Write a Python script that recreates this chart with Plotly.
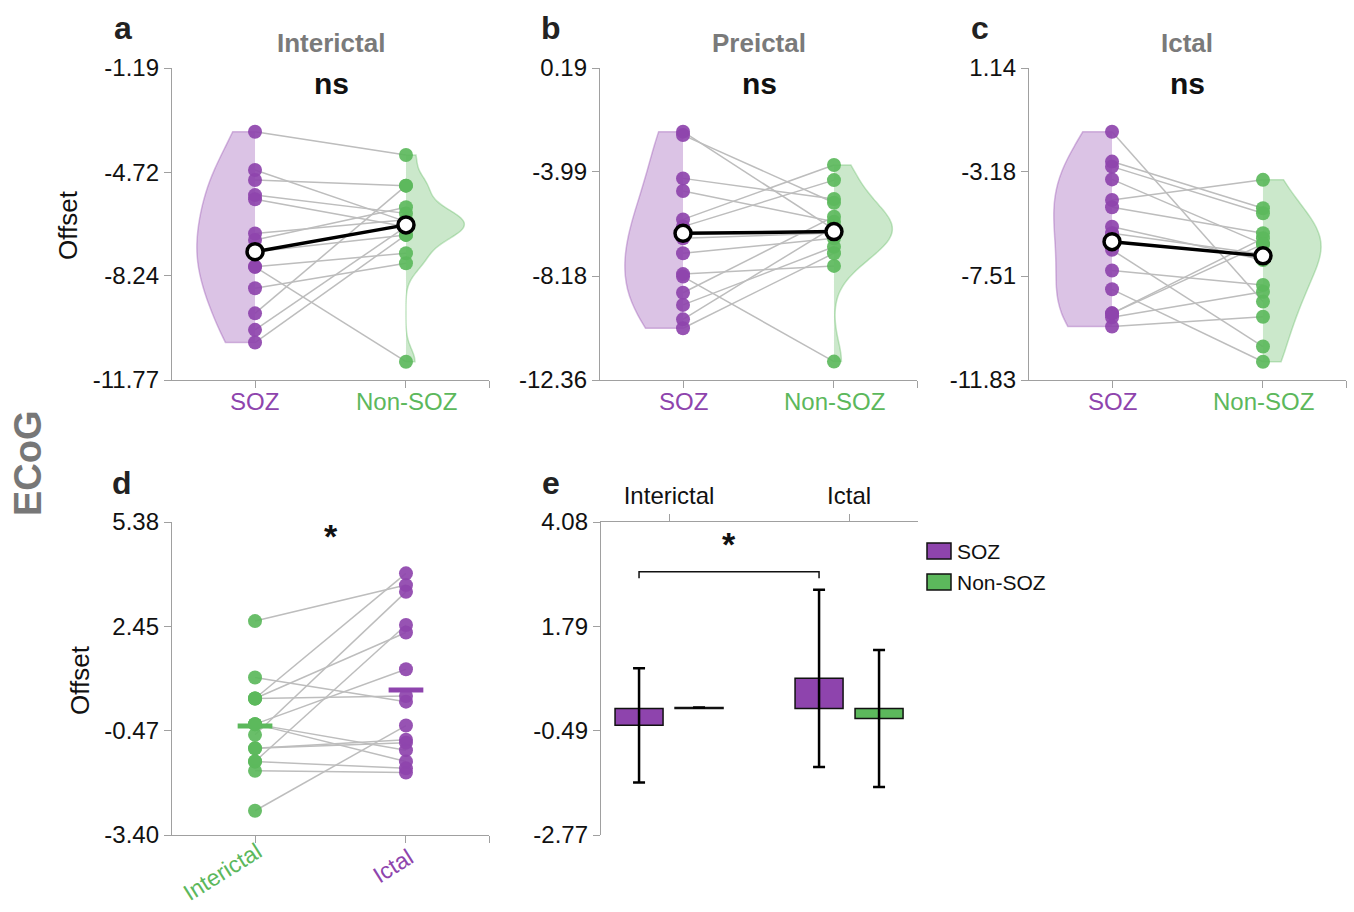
import plotly.graph_objects as go

W, H = 1354, 912
PURPLE = '#8e44ad'
GREEN = '#5cb85c'
FONT = 'Liberation Sans, Arial, sans-serif'

categories_top = ['SOZ', 'Non-SOZ']
panel_titles = ['Interictal', 'Preictal', 'Ictal']

# ---- Panel a: Interictal (paired SOZ / Non-SOZ) ----
a_soz = [-3.35, -4.65, -4.99, -5.50, -5.64, -6.80, -7.02, -7.42, -7.93, -7.93, -8.66, -9.51, -10.07, -10.50]
a_nsoz = [-4.14, -6.40, -5.18, -6.12, -6.57, -6.34, -5.91, -6.85, -7.47, -11.15, -7.81, -5.18, -6.57, -6.85]
a_means = [-7.42, -6.51]
a_yticks = [-1.19, -4.72, -8.24, -11.77]

# ---- Panel b: Preictal ----
b_soz = [-2.37, -2.51, -4.25, -4.76, -5.90, -6.19, -6.66, -7.26, -8.10, -8.20, -8.85, -9.34, -9.92, -10.28]
b_nsoz = [-6.30, -5.23, -5.08, -5.99, -3.71, -4.32, -6.45, -6.66, -7.77, -11.62, -5.79, -7.00, -6.20, -7.26]
b_means = [-6.46, -6.39]
b_yticks = [0.19, -3.99, -8.18, -12.36]

# ---- Panel c: Ictal ----
c_soz = [-1.51, -2.75, -2.96, -3.49, -4.35, -4.65, -5.46, -5.73, -6.42, -7.28, -8.06, -9.06, -9.06, -9.22, -9.61]
c_nsoz = [-8.57, -4.69, -4.90, -6.18, -3.51, -5.73, -6.84, -6.60, -10.44, -7.88, -11.07, -5.94, -6.18, -8.16, -9.20]
c_means = [-6.08, -6.67]
c_yticks = [1.14, -3.18, -7.51, -11.83]

# ---- Panel d: SOZ Interictal vs Ictal ----
d_categories = ['Interictal', 'Ictal']
d_interictal = [2.60, 1.02, 0.43, 0.43, 0.43, -0.29, -0.29, -0.59, -0.97, -0.97, -1.34, -1.60, -0.29, -1.34, -2.72]
d_ictal = [3.61, 0.34, 3.94, 2.28, 0.50, 1.25, -1.02, 3.42, -0.73, -0.81, -1.53, -1.65, -1.34, 2.49, -0.33]
d_means = [-0.34, 0.67]
d_yticks = [5.38, 2.45, -0.47, -3.40]

# ---- Panel e: bar chart ----
e_categories = ['Interictal', 'Ictal']
e_soz = [-0.37, 0.66]
e_soz_err = [1.25, 1.94]
e_nsoz = [0.02, -0.22]
e_nsoz_err = [0.0, 1.50]
e_yticks = [4.08, 1.79, -0.49, -2.77]


def px(x):
    return x / W


def py(y):
    return 1 - y / H


fig = go.Figure()

AX_COLOR = '#a0a0a0'


def xaxis_style(dom, anchor):
    return dict(domain=[px(dom[0]), px(dom[1])], anchor=anchor, range=[-0.55, 1.55],
                showline=True, linecolor=AX_COLOR, linewidth=1.3, ticks='outside', ticklen=7,
                tickcolor=AX_COLOR, tickwidth=1.3, tickvals=[0, 1, 1.55], showticklabels=False,
                showgrid=False, zeroline=False, automargin=False)


def yaxis_style(dom, anchor, ticks):
    return dict(domain=[py(dom[1]), py(dom[0])], anchor=anchor, range=[ticks[-1], ticks[0]],
                showline=True, linecolor=AX_COLOR, linewidth=1.3, ticks='outside', ticklen=7,
                tickcolor=AX_COLOR, tickwidth=1.3, tickvals=ticks,
                ticktext=['%.2f' % t for t in ticks],
                tickfont=dict(family=FONT, size=24, color='#111'),
                showgrid=False, zeroline=False, automargin=False)


panels = [
    ('x', 'y', a_soz, a_nsoz, a_means, a_yticks),
    ('x2', 'y2', b_soz, b_nsoz, b_means, b_yticks),
    ('x3', 'y3', c_soz, c_nsoz, c_means, c_yticks),
]

for xa, ya, soz, nsoz, means, yt in panels:
    fig.add_trace(go.Violin(y=soz, x0=0, side='negative', width=0.77, spanmode='hard', points=False,
                            fillcolor='rgba(142,68,173,0.32)',
                            line=dict(color='rgba(142,68,173,0.35)', width=1.5),
                            box_visible=False, meanline_visible=False, hoverinfo='skip',
                            xaxis=xa, yaxis=ya))
    fig.add_trace(go.Violin(y=nsoz, x0=1, side='positive', width=0.77, spanmode='hard', points=False,
                            fillcolor='rgba(92,184,92,0.32)',
                            line=dict(color='rgba(92,184,92,0.35)', width=1.5),
                            box_visible=False, meanline_visible=False, hoverinfo='skip',
                            xaxis=xa, yaxis=ya))
    lx, ly = [], []
    for s, n in zip(soz, nsoz):
        lx += [0, 1, None]
        ly += [s, n, None]
    fig.add_trace(go.Scatter(x=lx, y=ly, mode='lines', line=dict(color='#bdbdbd', width=1.5),
                             hoverinfo='skip', xaxis=xa, yaxis=ya))
    fig.add_trace(go.Scatter(x=[0] * len(soz), y=soz, mode='markers',
                             marker=dict(size=14, color=PURPLE, opacity=0.92),
                             xaxis=xa, yaxis=ya))
    fig.add_trace(go.Scatter(x=[1] * len(nsoz), y=nsoz, mode='markers',
                             marker=dict(size=14, color=GREEN, opacity=0.92),
                             xaxis=xa, yaxis=ya))
    fig.add_trace(go.Scatter(x=[0, 1], y=means, mode='lines+markers',
                             line=dict(color='black', width=3.5),
                             marker=dict(size=16, color='white', line=dict(color='black', width=3.5)),
                             xaxis=xa, yaxis=ya))

# Panel d
lx, ly = [], []
for s, n in zip(d_interictal, d_ictal):
    lx += [0, 1, None]
    ly += [s, n, None]
fig.add_trace(go.Scatter(x=lx, y=ly, mode='lines', line=dict(color='#bdbdbd', width=1.5),
                         hoverinfo='skip', xaxis='x4', yaxis='y4'))
fig.add_trace(go.Scatter(x=[-0.115, 0.115], y=[d_means[0], d_means[0]], mode='lines',
                         line=dict(color=GREEN, width=5), xaxis='x4', yaxis='y4'))
fig.add_trace(go.Scatter(x=[0] * len(d_interictal), y=d_interictal, mode='markers',
                         marker=dict(size=14, color=GREEN, opacity=0.92), xaxis='x4', yaxis='y4'))
fig.add_trace(go.Scatter(x=[1] * len(d_ictal), y=d_ictal, mode='markers',
                         marker=dict(size=14, color=PURPLE, opacity=0.92), xaxis='x4', yaxis='y4'))
fig.add_trace(go.Scatter(x=[1 - 0.115, 1 + 0.115], y=[d_means[1], d_means[1]], mode='lines',
                         line=dict(color=PURPLE, width=5), xaxis='x4', yaxis='y4'))

# Panel e
fig.add_trace(go.Bar(x=[0, 1], y=e_soz, width=0.2667, offset=-0.3, marker=dict(color=PURPLE, line=dict(color='#111', width=1.5)),
                     error_y=dict(type='data', array=e_soz_err, visible=True, color='black', thickness=2.5, width=6),
                     xaxis='x5', yaxis='y5', name='SOZ'))
fig.add_trace(go.Bar(x=[0, 1], y=e_nsoz, width=0.2667, offset=0.0333, marker=dict(color=GREEN, line=dict(color='#111', width=1.5)),
                     error_y=dict(type='data', array=e_nsoz_err, visible=True, color='black', thickness=2.5, width=6),
                     xaxis='x5', yaxis='y5', name='Non-SOZ'))

layout = dict(width=W, height=H, margin=dict(l=0, r=0, t=0, b=0, autoexpand=False), showlegend=False,
              plot_bgcolor='white', paper_bgcolor='white', violinmode='overlay', barmode='overlay',
              font=dict(family=FONT, color='#111'))
layout['xaxis'] = xaxis_style((172, 489), 'y')
layout['yaxis'] = yaxis_style((68, 380), 'x', a_yticks)
layout['xaxis2'] = xaxis_style((600, 917), 'y2')
layout['yaxis2'] = yaxis_style((68, 380), 'x2', b_yticks)
layout['xaxis3'] = xaxis_style((1029, 1346), 'y3')
layout['yaxis3'] = yaxis_style((68, 380), 'x3', c_yticks)
layout['xaxis4'] = xaxis_style((172, 489), 'y4')
layout['yaxis4'] = yaxis_style((522, 835), 'x4', d_yticks)
xe = dict(domain=[px(601), px(918)], anchor='y5', side='top', range=[-0.378, 1.383],
          showline=True, linecolor=AX_COLOR, linewidth=1.3, ticks='outside', ticklen=7,
          tickcolor=AX_COLOR, tickwidth=1.3, tickvals=[0, 1], ticktext=e_categories,
          tickfont=dict(family=FONT, size=24, color='#111'), showgrid=False, zeroline=False,
          automargin=False)
layout['xaxis5'] = xe
layout['yaxis5'] = yaxis_style((522, 835), 'x5', e_yticks)
fig.update_layout(**layout)

ann = []


def text(x, y, s, size, color='#111', bold=False, angle=0):
    if bold:
        s = '<b>' + s + '</b>'
    ann.append(dict(x=px(x), y=py(y), xref='paper', yref='paper', text=s, showarrow=False,
                    font=dict(family=FONT, size=size, color=color), textangle=angle,
                    xanchor='center', yanchor='middle'))


# panel letters
for (lx_, ly_, s) in [(123, 28, 'a'), (551, 28, 'b'), (980, 28, 'c'), (122, 483, 'd'), (551, 483, 'e')]:
    text(lx_, ly_, s, 32, '#222', True)
# titles & ns
for cx, t in zip([331, 759, 1187], panel_titles):
    text(cx, 43, t, 26, '#7a7a7a', True)
    text(cx, 83, 'ns', 30, '#111', True)
# x labels a-c
for x0 in [172, 600, 1029]:
    text(x0 + 83, 401, categories_top[0], 24, PURPLE)
    text(x0 + 234, 401, categories_top[1], 24, GREEN)
# y titles
text(68, 225, 'Offset', 26, '#111', False, -90)
text(80, 680, 'Offset', 26, '#111', False, -90)
# ECoG
text(28, 463, 'ECoG', 38, '#777', True, -90)
# panel d rotated labels
text(222, 872, d_categories[0], 23, GREEN, False, -32)
text(393, 866, d_categories[1], 23, PURPLE, False, -32)
# stars
text(331, 536, '*', 34, '#111', True)
text(729, 544, '*', 34, '#111', True)
# legend e
text(955, 551, 'SOZ', 21, '#111')
text(955, 582, 'Non-SOZ', 21, '#111')
for a in ann[-2:]:
    a['xanchor'] = 'left'

fig.update_layout(annotations=ann)

shapes = [
    dict(type='path', xref='x5', yref='y5', path='M -0.1667,2.85 L -0.1667,2.99 L 0.8333,2.99 L 0.8333,2.85',
         line=dict(color='#111', width=1.5)),
    dict(type='rect', xref='paper', yref='paper', x0=px(927), x1=px(951), y0=py(559), y1=py(543),
         fillcolor=PURPLE, line=dict(color='#111', width=1.5)),
    dict(type='rect', xref='paper', yref='paper', x0=px(927), x1=px(951), y0=py(590), y1=py(574),
         fillcolor=GREEN, line=dict(color='#111', width=1.5)),
]
fig.update_layout(shapes=shapes)

fig.write_html('out.html')
